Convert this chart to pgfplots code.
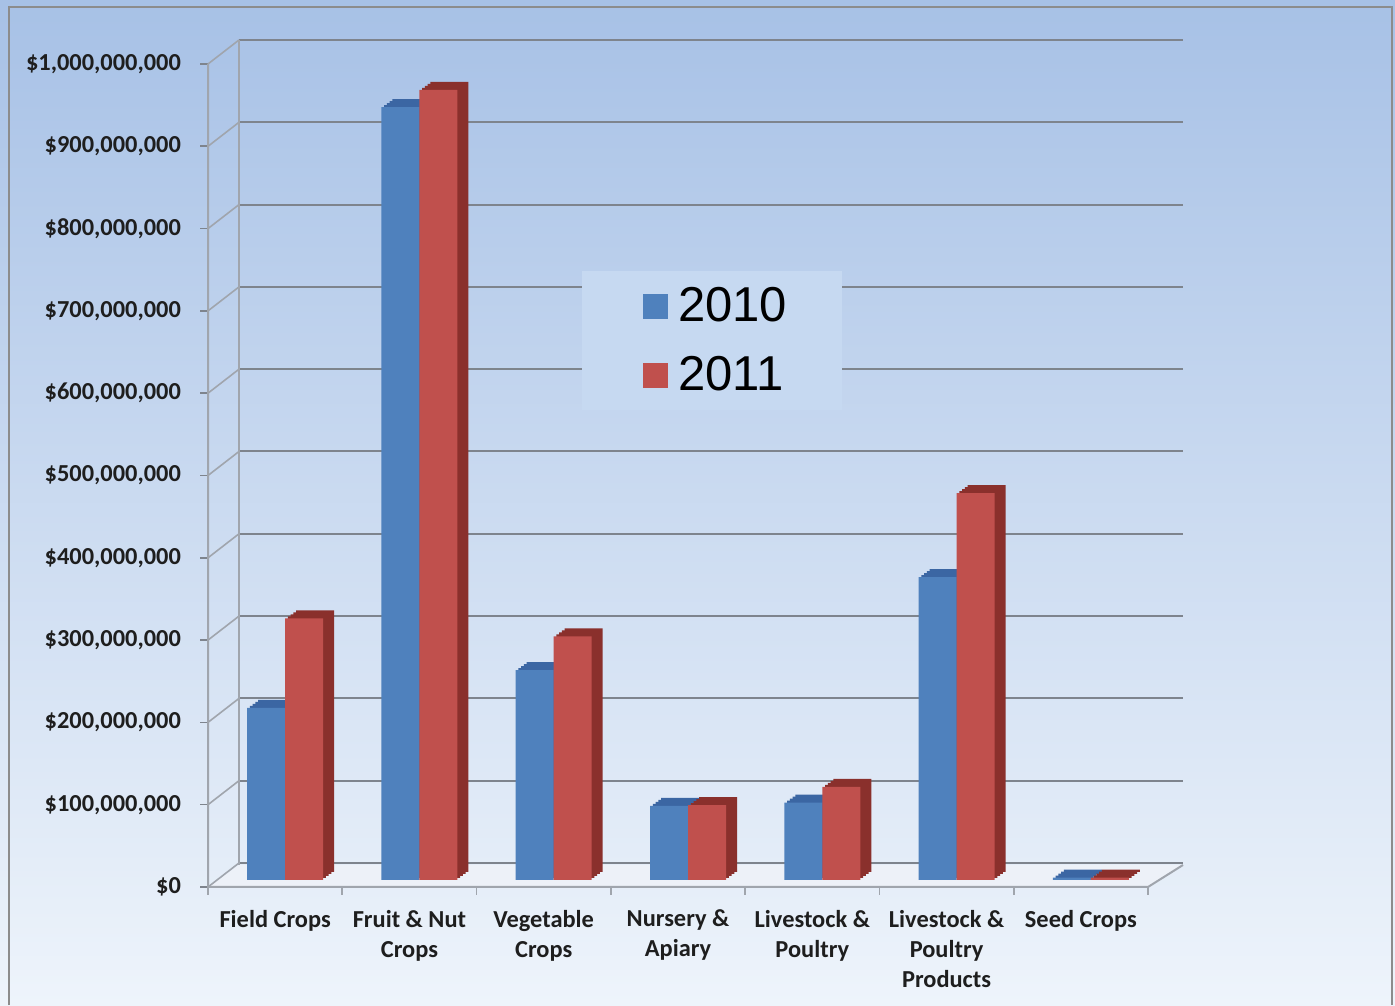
\documentclass[border=0pt]{standalone}
\usepackage{fontspec}
\setmainfont{Carlito}
\newfontfamily\legfont{Liberation Sans}
\usepackage{pgfplots}
\usepackage{pgfplotstable}
\pgfplotsset{compat=1.18}
\usetikzlibrary{calc}
\definecolor{bgtop}{HTML}{A7C1E6}
\definecolor{bgbot}{HTML}{EEF4FB}
\definecolor{ser1}{HTML}{4F81BD}
\definecolor{ser1d}{HTML}{3B66A3}
\definecolor{ser2}{HTML}{C0504D}
\definecolor{ser2d}{HTML}{8A302C}
\definecolor{gridc}{HTML}{7E848D}
\definecolor{wallc}{HTML}{A0A5AD}
\definecolor{floorc}{HTML}{EDF1F8}
\definecolor{legbg}{HTML}{C6D9F1}
\definecolor{framec}{HTML}{8C8C8C}
\definecolor{txt}{HTML}{1E1E1E}

\pgfplotstableread{
x y2010 y2011
0 209 318
1 939 960
2 255 296
3 90 91
4 94 113
5 368 470
6 3 3
}\datatable

\pgfplotsset{
  front1/.style={ybar, bar width=19pt, bar shift=-9.5pt, draw=none, forget plot},
  front2/.style={ybar, bar width=19pt, bar shift=9.5pt, draw=none, forget plot},
}

\begin{document}
\begin{tikzpicture}
\shade[top color=bgtop, bottom color=bgbot] (0,0) rectangle (697.5pt,502.5pt);
\draw[framec, line width=1pt] (4.5pt,0) -- (4.5pt,499pt) -- (696pt,499pt) -- (696pt,0);
\begin{axis}[
  at={(104pt,59pt)}, anchor=south west, scale only axis,
  width=470pt, height=411.5pt,
  xmin=-0.5, xmax=6.5, ymin=0, ymax=1000,
  clip=false,
  axis line style={draw=none},
  xtick={0,...,6},
  xticklabels={Field Crops, Fruit \& Nut\\Crops, Vegetable\\Crops, Nursery \&\\Apiary, Livestock \&\\Poultry, Livestock \&\\Poultry\\Products, Seed Crops},
  ytick={0,100,...,1000},
  yticklabels={{\$0},{\$100,000,000},{\$200,000,000},{\$300,000,000},{\$400,000,000},{\$500,000,000},{\$600,000,000},{\$700,000,000},{\$800,000,000},{\$900,000,000},{\$1,000,000,000}},
  xtick pos=bottom, ytick pos=left,
  tick align=outside, major tick length=4pt,
  xtick style={draw=none},
  ytick style={draw=gridc, line width=0.8pt},
  ticklabel style={font=\bfseries\fontsize{12.2}{15}\selectfont, text=txt},
  xticklabel style={align=center, yshift=-4pt},
  yticklabel style={xshift=-6pt},
  legend style={at={(0.3979,0.7485)}, anchor=north west, fill=legbg, draw=none,
    font=\legfont\fontsize{24.5}{28}\selectfont, inner xsep=22.5pt, inner ysep=5pt,
    row sep=10pt, nodes={inner ysep=3pt, inner xsep=5pt}},
  legend cell align=left,
]
% floor
\fill[floorc] (axis cs:-0.5,0) -- (axis cs:6.5,0) -- ++(17.5pt,11pt) -- ($(axis cs:-0.5,0)+(15.5pt,11pt)$) -- cycle;
% side wall diagonals and back wall gridlines
\pgfplotsinvokeforeach{0,100,200,...,1000}{
  \draw[wallc, line width=0.8pt] (axis cs:-0.5,#1) -- ++(15.5pt,12pt);
  \draw[gridc, line width=1pt] ($(axis cs:-0.5,#1)+(15.5pt,12pt)$) -- ($(axis cs:6.5,#1)+(17.5pt,12pt)$);
}
\draw[wallc, line width=0.8pt] ($(axis cs:-0.5,0)+(15.5pt,11pt)$) -- ($(axis cs:-0.5,1000)+(15.5pt,12pt)$);
\draw[wallc, line width=1pt] (axis cs:-0.5,1000) -- (axis cs:-0.5,0) -- (axis cs:6.5,0) -- ++(17.5pt,11pt);
\pgfplotsinvokeforeach{-0.5,0.5,...,6.5}{
  \draw[wallc, line width=0.8pt] (axis cs:#1,0) -- ++(0pt,-4pt);
}
% 2010 bars: depth (stepped extrusion), then front face
\addplot[front1, fill=ser1d, xshift=10.5pt, yshift=7.5pt] table[x=x,y=y2010]{\datatable};
\addplot[front1, fill=ser1d, xshift=9.125pt, yshift=6.5pt] table[x=x,y=y2010]{\datatable};
\addplot[front1, fill=ser1d, xshift=7.75pt, yshift=5.5pt] table[x=x,y=y2010]{\datatable};
\addplot[front1, fill=ser1d, xshift=6.375pt, yshift=4.5pt] table[x=x,y=y2010]{\datatable};
\addplot[front1, fill=ser1, xshift=5pt, yshift=3.5pt] table[x=x,y=y2010]{\datatable};
% 2011 bars
\addplot[front2, fill=ser2d, xshift=10.5pt, yshift=7.5pt] table[x=x,y=y2011]{\datatable};
\addplot[front2, fill=ser2d, xshift=9.125pt, yshift=6.5pt] table[x=x,y=y2011]{\datatable};
\addplot[front2, fill=ser2d, xshift=7.75pt, yshift=5.5pt] table[x=x,y=y2011]{\datatable};
\addplot[front2, fill=ser2d, xshift=6.375pt, yshift=4.5pt] table[x=x,y=y2011]{\datatable};
\addplot[front2, fill=ser2, xshift=5pt, yshift=3.5pt] table[x=x,y=y2011]{\datatable};
\addlegendimage{legend image code/.code={\path (0pt,0pt); \fill[ser1] (8pt,-6pt) rectangle (20pt,6pt);}}
\addlegendentry{2010}
\addlegendimage{legend image code/.code={\path (0pt,0pt); \fill[ser2] (8pt,-6pt) rectangle (20pt,6pt);}}
\addlegendentry{2011}
\end{axis}
\pgfresetboundingbox
\path (0,0) rectangle (697.5pt,502.5pt);
\end{tikzpicture}
\end{document}
